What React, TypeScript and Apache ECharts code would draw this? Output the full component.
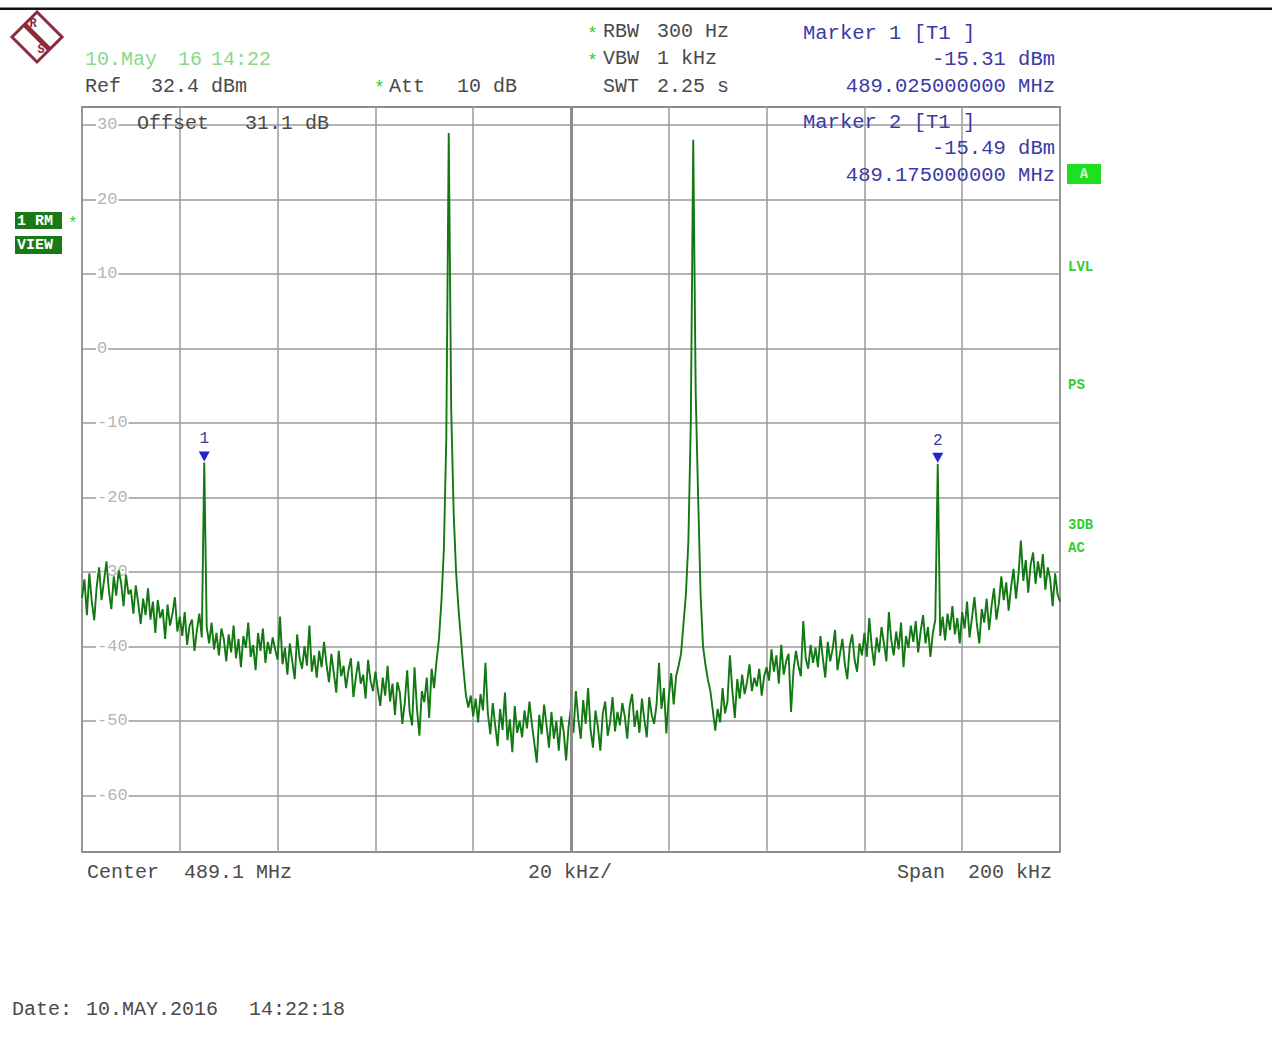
import React, { useEffect, useRef } from "react";
import * as echarts from "echarts";

// Spectrum: center 489.1 MHz, span 200 kHz -> x is offset from 489.0 MHz in kHz
const SPAN_KHZ = 200;
const STEP_KHZ = 0.5;
const REF_LEVEL = 32.4;
const BOTTOM_LEVEL = -67.6;

// Trace levels in dBm, one sample every 0.5 kHz from 0 to 200 kHz
const levels: number[] = [
  -33.5, -31, -35.8, -30.2, -34, -36.5, -32, -29.4, -33.8, -31.2, -28.6, -32.5, -35, -30.6, -33.2, -29.8, -31.5, -34.6, -30.4, -33,
  -32.4, -35.6, -31.8, -34.2, -37, -33.6, -35.8, -32.2, -36.4, -34, -38.2, -33.8, -36.2, -35, -39, -34.4, -37.2, -35.6, -33.4, -38,
  -36, -38.6, -35.4, -39.8, -37.2, -36.4, -40.6, -37.8, -35.6, -38.8, -15.31, -37.4, -39.6, -36.8, -40.4, -38.2, -41.2, -37.6, -39, -42,
  -38.4, -40.8, -37.2, -41.6, -39, -42.8, -38.6, -40.2, -36.8, -41.4, -39.8, -43.2, -38.2, -40.6, -37.6, -42.2, -39.4, -41, -38.8, -40.4,
  -41.8, -36, -42.4, -40.2, -43.8, -39.6, -42, -44.4, -38.4, -41.6, -43, -40, -42.6, -37.2, -43.4, -41.2, -44.2, -40.6, -42.8, -39.4,
  -42.4, -44.8, -41, -43.6, -46.2, -40.6, -44, -42.6, -45.6, -43.2, -41.6, -46.8, -44.2, -42, -45, -43.8, -47, -41.8, -44.6, -46,
  -43.4, -45.8, -48, -44.2, -46.6, -42.6, -47.4, -45, -49.2, -44.8, -46.2, -50.4, -47.6, -43.2, -48.8, -50.6, -42.8, -48.4, -52, -46,
  -47.5, -44.2, -49.6, -43, -45.6, -42, -39, -34, -27, -12, 28.9, -8, -22, -30, -35, -39, -43, -46.5, -48.2, -46.6,
  -49.4, -47, -50.2, -46.4, -48.6, -42.2, -49, -51.8, -47.6, -50.6, -53.4, -48.4, -51.2, -46.2, -52.6, -49.8, -54.2, -48, -51.6, -50,
  -52.2, -48.6, -51, -47.4, -50.4, -53, -55.6, -49.2, -51.8, -47.8, -50.6, -53.6, -48.8, -52.4, -50, -54, -49.4, -51.4, -55.3, -50.8,
  -48.2, -51.6, -46, -49.8, -52.4, -47.2, -50.4, -45.6, -51.2, -53.6, -48.6, -50.8, -54, -49, -47.4, -52, -50.2, -46.8, -51.4, -48.8,
  -50.6, -47.6, -49.4, -52.4, -48, -46.4, -50.8, -48.6, -51.6, -47, -49.8, -52.2, -46.8, -49.2, -50.4, -47.8, -42.2, -48.4, -45.6, -51.7,
  -46.8, -43.6, -47.8, -44, -42.6, -41, -37, -33, -26, -10, 28.0, -6, -20, -33, -40, -42.5, -44.5, -46, -48.6, -51.3,
  -48.4, -50.2, -45.6, -49, -47.4, -41.2, -46, -49.6, -44.4, -47, -43.8, -46.4, -44.8, -42.4, -46, -44.2, -45.4, -43, -46.6, -44,
  -42.8, -44.6, -40.4, -43.4, -41.2, -45, -39.8, -43.8, -42, -41, -48.8, -43.2, -40.6, -42.6, -44, -36.6, -41.6, -43, -39.8, -42.2,
  -40.2, -42.8, -38.6, -41.6, -44.2, -39.4, -42, -40.4, -37.8, -43.2, -41, -39, -42.4, -44.4, -40, -38.4, -41.8, -43.4, -39.6, -41.2,
  -38.2, -41.4, -36.2, -40, -42.6, -38.8, -40.8, -37.4, -39.6, -42, -35.4, -39.2, -41.2, -38, -40.4, -36.8, -42.8, -38.6, -40.2, -37.2,
  -39.4, -36.6, -40.8, -38, -35.8, -39.6, -37.4, -41.4, -38.2, -36.4, -15.49, -38.6, -36, -39.2, -35.6, -37.8, -34.6, -38.4, -36.2, -39.6,
  -35.4, -37.6, -34, -38.8, -36.2, -33.4, -37, -39.6, -35, -36.8, -33.6, -37.8, -34.6, -32.2, -36.4, -34.2, -30.6, -33.8, -31.4, -35.2,
  -32, -29.6, -33.6, -30.4, -25.8, -31.2, -28.4, -32.8, -29, -27.4, -31.6, -28.6, -30.8, -27.6, -32.4, -29.4, -31, -34.6, -30.2, -33,
  -34,
];

const yTickValues = [30, 20, 10, 0, -10, -20, -30, -40, -50, -60];
const xDivisionKHz = 20;
const centerLineKHz = [100];
const markerNames = ["1", "2"];
const markerFreqs = [25, 175];
const markerLevels = [-15.31, -15.49];

const MONO = '"Liberation Mono", "Courier New", monospace';
const GRAY = "#4a4a4a";
const BLUE = "#3a3aa6";
const GREEN = "#33cc33";

function T(x: number, y: number, text: string, fill: string, size = 20, align = "left", weight = "normal") {
  return {
    type: "text",
    x,
    y,
    silent: true,
    z: 10,
    style: {
      text,
      fill,
      font: `${weight} ${size}px ${MONO}`,
      align,
      verticalAlign: "middle",
    },
  };
}

export default function App() {
  const ref = useRef<HTMLDivElement>(null);

  useEffect(() => {
    if (!ref.current) return;
    const chart = echarts.init(ref.current, undefined, { renderer: "svg" });
    const trace = levels.map((v, i) => [i * STEP_KHZ, v]);

    const graphic: any[] = [
      // top rule
      { type: "rect", shape: { x: 0, y: 7.5, width: 1272, height: 2.5 }, style: { fill: "#111" }, silent: true },
      // logo
      {
        type: "polygon",
        shape: { points: [[37, 12], [62, 37], [37, 62], [12, 37]] },
        style: { fill: "#fff", stroke: "#8b2b3b", lineWidth: 3 },
        silent: true,
      },
      { type: "line", shape: { x1: 24, y1: 24, x2: 50, y2: 50 }, style: { stroke: "#8b2b3b", lineWidth: 5 }, silent: true },
      T(33, 24, "R", "#8b2b3b", 12, "center", "bold"),
      T(41, 50, "S", "#8b2b3b", 12, "center", "bold"),

      // header left
      T(85, 59, "10.May", "#8ad88a"),
      T(178, 59, "16", "#8ad88a"),
      T(211, 59, "14:22", "#8ad88a"),
      T(85, 86, "Ref", GRAY),
      T(151, 86, "32.4 dBm", GRAY),
      T(374, 88, "*", GREEN, 18),
      T(389, 86, "Att", GRAY),
      T(457, 86, "10 dB", GRAY),
      // header middle
      T(587, 34, "*", GREEN, 18),
      T(603, 31, "RBW", GRAY),
      T(657, 31, "300 Hz", GRAY),
      T(587, 61, "*", GREEN, 18),
      T(603, 58, "VBW", GRAY),
      T(657, 58, "1 kHz", GRAY),
      T(603, 86, "SWT", GRAY),
      T(657, 86, "2.25 s", GRAY),
      // markers
      T(803, 33, "Marker 1 [T1 ]", BLUE, 20.5),
      T(1055, 59, "-15.31 dBm", BLUE, 20.5, "right"),
      T(1055, 86, "489.025000000 MHz", BLUE, 20.5, "right"),
      T(803, 122, "Marker 2 [T1 ]", BLUE, 20.5),
      T(1055, 148, "-15.49 dBm", BLUE, 20.5, "right"),
      T(1055, 175, "489.175000000 MHz", BLUE, 20.5, "right"),
      // inside plot
      T(137, 123, "Offset", GRAY),
      T(245, 123, "31.1 dB", GRAY),
      // right side flags
      { type: "rect", shape: { x: 1067, y: 164, width: 34, height: 20 }, style: { fill: "#1fe01f" }, silent: true },
      T(1084, 174, "A", "#c8ffc8", 14, "center", "bold"),
      T(1068, 267, "LVL", GREEN, 14, "left", "bold"),
      T(1068, 385, "PS", GREEN, 14, "left", "bold"),
      T(1068, 525, "3DB", GREEN, 14, "left", "bold"),
      T(1068, 548, "AC", GREEN, 14, "left", "bold"),
      // left flags
      { type: "rect", shape: { x: 15, y: 212, width: 47, height: 17 }, style: { fill: "#177a17" }, silent: true },
      T(17, 221, "1 RM", "#ffffff", 15, "left", "bold"),
      T(68, 224, "*", GREEN, 16),
      { type: "rect", shape: { x: 15, y: 236, width: 47, height: 18 }, style: { fill: "#177a17" }, silent: true },
      T(17, 245, "VIEW", "#ffffff", 15, "left", "bold"),
      // bottom
      T(87, 872, "Center", GRAY),
      T(184, 872, "489.1 MHz", GRAY),
      T(528, 872, "20 kHz/", GRAY),
      T(897, 872, "Span", GRAY),
      T(1052, 872, "200 kHz", GRAY, 20, "right"),
      T(12, 1009, "Date:", GRAY),
      T(86, 1009, "10.MAY.2016", GRAY),
      T(249, 1009, "14:22:18", GRAY),
    ];

    chart.setOption({
      animation: false,
      backgroundColor: "#ffffff",
      grid: {
        left: 82,
        top: 107,
        width: 978,
        height: 745,
        show: true,
        borderColor: "#8c8c8c",
        borderWidth: 2,
      },
      xAxis: {
        type: "value",
        min: 0,
        max: SPAN_KHZ,
        interval: xDivisionKHz,
        axisLabel: { show: false },
        axisTick: { show: false },
        axisLine: { show: false },
        splitLine: { show: true, lineStyle: { color: "#9a9a9a", width: 1.5 } },
      },
      yAxis: {
        type: "value",
        min: BOTTOM_LEVEL,
        max: REF_LEVEL,
        axisLine: { show: false },
        axisTick: { show: false, customValues: yTickValues },
        axisLabel: {
          inside: true,
          customValues: yTickValues,
          margin: 14,
          color: "#b4b4b4",
          fontSize: 17,
          fontFamily: MONO,
          backgroundColor: "#ffffff",
          padding: [0, 1],
        },
        splitLine: { show: true, lineStyle: { color: "#9a9a9a", width: 1.5 } },
      },
      series: [
        {
          type: "line",
          data: [],
          silent: true,
          z: 1,
          markLine: {
            silent: true,
            symbol: ["none", "none"],
            label: { show: false },
            lineStyle: { color: "#8c8c8c", width: 3, type: "solid" },
            data: centerLineKHz.map((f) => ({ xAxis: f })),
          },
        },
        {
          type: "line",
          data: trace,
          showSymbol: false,
          symbol: "none",
          silent: true,
          z: 3,
          lineStyle: { color: "#127812", width: 1.9 },
          markPoint: {
            silent: true,
            symbol: "triangle",
            symbolRotate: 180,
            symbolSize: [11, 10],
            symbolOffset: [0, -6],
            itemStyle: { color: "#2424d0" },
            label: {
              show: true,
              position: "top",
              distance: 4,
              formatter: "{b}",
              color: BLUE,
              fontSize: 16,
              fontFamily: MONO,
            },
            data: markerFreqs.map((f, i) => ({ name: markerNames[i], coord: [f, markerLevels[i]] })),
          },
        },
      ],
      graphic,
    });

    return () => chart.dispose();
  }, []);

  return <div ref={ref} style={{ position: "absolute", left: 0, top: 0, width: 1272, height: 1042 }} />;
}
